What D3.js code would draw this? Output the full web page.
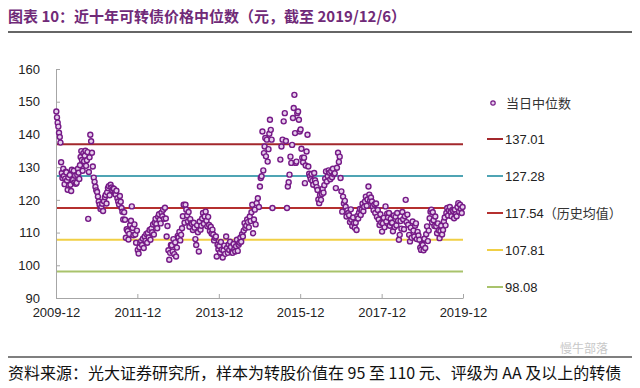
<!DOCTYPE html>
<html>
<head>
<meta charset="utf-8">
<script src="https://cdn.jsdelivr.net/npm/d3@7"></script>
<style>
  body { margin: 0; background: #fff; }
  text { font-family: "Liberation Sans", Arial, "Noto Sans CJK SC", sans-serif; }
  .cjk { font-family: "Noto Sans CJK SC", sans-serif; }
</style>
</head>
<body>
<svg id="chart"></svg>
<script>
// months of the sample, Dec 2009 .. Nov 2019
const months = [
  '2009-12',
  '2010-01', '2010-02', '2010-03', '2010-04', '2010-05', '2010-06', '2010-07', '2010-08', '2010-09', '2010-10', '2010-11', '2010-12',
  '2011-01', '2011-02', '2011-03', '2011-04', '2011-05', '2011-06', '2011-07', '2011-08', '2011-09', '2011-10', '2011-11', '2011-12',
  '2012-01', '2012-02', '2012-03', '2012-04', '2012-05', '2012-06', '2012-07', '2012-08', '2012-09', '2012-10', '2012-11', '2012-12',
  '2013-01', '2013-02', '2013-03', '2013-04', '2013-05', '2013-06', '2013-07', '2013-08', '2013-09', '2013-10', '2013-11', '2013-12',
  '2014-01', '2014-02', '2014-03', '2014-04', '2014-05', '2014-06', '2014-07', '2014-08', '2014-09', '2014-10', '2014-11', '2014-12',
  '2015-01', '2015-02', '2015-03', '2015-04', '2015-05', '2015-06', '2015-07', '2015-08', '2015-09', '2015-10', '2015-11', '2015-12',
  '2016-01', '2016-02', '2016-03', '2016-04', '2016-05', '2016-06', '2016-07', '2016-08', '2016-09', '2016-10', '2016-11', '2016-12',
  '2017-01', '2017-02', '2017-03', '2017-04', '2017-05', '2017-06', '2017-07', '2017-08', '2017-09', '2017-10', '2017-11', '2017-12',
  '2018-01', '2018-02', '2018-03', '2018-04', '2018-05', '2018-06', '2018-07', '2018-08', '2018-09', '2018-10', '2018-11', '2018-12',
  '2019-01', '2019-02', '2019-03', '2019-04', '2019-05', '2019-06', '2019-07', '2019-08', '2019-09', '2019-10', '2019-11'
];

// daily median prices, grouped by month
const medians = [
  [147, 145.2, 143.6, 142.4, 140.5],
  // 2010
  [139.2, 137.5, 131.5, 128.2, 126.7], [129.5, 127.3, 124.8, 126.5, 128.6], [128.4, 125.9, 123.1, 126.8, 124.4],
  [127.6, 124.6, 122.7, 129.2, 126.2], [126.1, 128.9, 125.3, 127.4, 124.9], [125.2, 127.6, 129.5, 128.3, 126.4],
  [130.6, 133.1, 134.9, 132.2, 128.9], [134.3, 131.8, 133.5, 135.0, 130.4], [132.1, 134.6, 114.2, 128.5, 133.0],
  [139.9, 137.9, 134.4, 130.2], [126.8, 125.5, 124.0, 122.9], [122.4, 121.0, 119.5, 118.5],
  // 2011
  [117.2, 117.9, 118.8, 116.6], [119.6, 120.8, 121.5, 118.9], [122.3, 123.6, 124.2, 121.4],
  [124.6, 123.8, 122.9, 123.5], [123.4, 122.1, 121.6, 122.8], [120.5, 119.5, 118.6, 121.2],
  [119.4, 117.5, 116.4, 114.0], [116.2, 113.9, 108.4, 111.0], [110.5, 107.9, 109.6, 112.3],
  [113.6, 118.0, 111.4, 109.2], [112.5, 109.4, 106.9, 110.6], [104.7, 103.6, 105.5, 106.8],
  // 2012
  [107.4, 106.2, 108.1, 105.3], [108.8, 107.5, 109.6, 106.9], [109.9, 108.5, 110.8, 107.8],
  [111.2, 110.1, 112.5, 109.4], [113.0, 114.2, 112.6, 111.3], [114.8, 115.6, 113.9, 112.8],
  [116.1, 115.0, 117.0, 114.2], [117.6, 114.3, 108.8, 112.0], [104.6, 101.7, 103.8, 106.2],
  [106.1, 104.2, 108.0, 103.4], [107.0, 102.7, 105.4, 109.0], [108.5, 110.2, 107.6, 109.3],
  // 2013
  [111.3, 115.0, 118.5, 113.0], [118.5, 117.0, 115.2, 113.4], [116.3, 111.8, 114.1, 112.9],
  [112.6, 110.8, 113.0, 111.5], [108.0, 106.2, 112.2, 110.1], [104.2, 113.4, 110.9, 112.1],
  [114.3, 116.0, 112.7, 114.9], [116.4, 113.6, 111.9, 114.8], [112.3, 110.5, 111.8, 109.7],
  [110.9, 109.4, 107.6, 108.4], [108.8, 102.7, 106.3, 104.9], [105.9, 103.9, 107.1, 104.8],
  // 2014
  [102.4, 104.6, 106.0, 103.5], [108.8, 105.3, 103.8, 106.4], [104.7, 107.2, 105.6, 103.9],
  [103.8, 106.5, 105.0, 104.2], [105.8, 107.8, 104.4, 106.3], [106.9, 108.4, 107.2, 109.5],
  [108.8, 110.6, 112.9, 111.4], [112.1, 114.0, 113.2, 111.6], [114.9, 113.5, 116.2, 118.5],
  [109.8, 114.0, 117.0, 112.5], [119.0, 120.5, 117.8], [124.1, 126.7, 127.2, 140.9],
  // 2015
  [129.0, 134.3, 136.3, 138.9, 133.3], [138.4, 131.7, 135.5, 140.2], [144.5, 141.4, 138.4, 117.5],
  [], [], [132.3, 136.3, 138.4],
  [144.0, 146.5, 138.0], [117.5, 124.1, 125.4, 127.7], [133.2, 131.3, 136.8, 145.0],
  [148.1, 152.1, 140.4, 131.3, 131.7], [146.5, 147.0, 144.5, 140.9], [141.5, 135.6, 132.9, 131.5],
  // 2016
  [132.9, 125.1, 130.5, 134.8], [139.9, 130.2, 128.0, 127.2], [126.3, 127.9, 125.8, 124.6],
  [128.2, 126.0, 125.2, 123.9], [123.0, 120.1, 119.0, 121.5], [120.0, 121.8, 123.4, 122.2],
  [124.5, 126.5, 128.7, 125.6], [127.2, 129.0, 128.3, 126.3], [128.7, 126.9, 129.5, 127.8],
  [128.1, 123.6, 129.8], [134.4, 131.6, 133.2, 126.7], [122.6, 116.4, 121.0, 118.9],
  // 2017
  [119.7, 117.9, 114.9, 116.8], [116.0, 115.3, 113.2, 117.1], [113.9, 112.0, 114.6, 112.9],
  [111.5, 113.0, 110.8, 115.1], [114.3, 116.1, 117.2, 115.4], [117.0, 118.8, 116.5, 117.9],
  [119.5, 121.0, 118.2, 120.1], [124.1, 121.6, 119.8, 120.7], [119.5, 118.0, 116.8, 118.6],
  [116.0, 118.9, 114.8, 116.9], [114.0, 112.3, 115.6, 113.1], [110.3, 112.8, 114.5, 111.6],
  // 2018
  [118.0, 113.4, 115.8, 114.6], [116.0, 112.1, 114.2, 113.0], [113.0, 110.4, 115.2, 111.7],
  [114.8, 112.2, 116.0, 113.6], [107.8, 109.3, 113.5, 111.2], [116.3, 114.1, 111.0, 115.0],
  [120.0, 113.2, 115.5, 112.4], [109.3, 107.3, 111.5, 108.4], [113.4, 110.6, 108.8, 112.1],
  [112.8, 108.0, 110.2, 109.1], [107.8, 105.4, 104.7, 106.5], [106.2, 104.6, 108.1, 105.3],
  // 2019
  [109.5, 111.9, 107.4, 110.6], [114.4, 116.4, 117.0, 113.1], [116.2, 113.8, 112.0, 114.9],
  [111.9, 109.8, 112.8, 110.7], [108.3, 110.5, 112.1, 109.4], [110.8, 113.4, 114.6, 112.2],
  [116.0, 117.5, 115.2, 116.8], [117.8, 116.3, 115.0, 116.9], [116.6, 114.4, 117.0, 115.6],
  [115.0, 117.8, 119.0, 116.4], [118.5, 117.2, 116.0, 117.8]
];

// reference levels (mean and +/- 1, 2 std)
const refValues = [137.01, 127.28, 117.54, 107.81, 98.08];
const refLabels = ['137.01', '127.28', '117.54', '107.81', '98.08'];
const refNotes = ['', '', '（历史均值）', '', ''];

const yTicks = [90, 100, 110, 120, 130, 140, 150, 160];
const xTickLabels = ['2009-12', '2011-12', '2013-12', '2015-12', '2017-12', '2019-12'];

const seriesName = '当日中位数';
const title = '图表 10：近十年可转债价格中位数（元，截至 2019/12/6）';
const source = '资料来源：光大证券研究所，样本为转股价值在 95 至 110 元、评级为 AA 及以上的转债';

const refColors = ['#a3282c', '#4fa4b4', '#b5302f', '#f0cf45', '#a9c36c'];

const width = 640, height = 388;
const parseMonth = d3.timeParse('%Y-%m');

let svg = d3.select('#chart').attr('width', width).attr('height', height);

let x = d3
  .scaleTime()
  .domain([parseMonth('2009-12'), parseMonth('2019-12')])
  .range([56, 463]);

let y = d3
  .scaleLinear()
  .domain([90, 160])
  .range([298, 69]);

// title
svg
  .append('text')
  .attr('x', 8)
  .attr('y', 22)
  .attr('class', 'cjk')
  .attr('fill', '#702a78')
  .attr('font-size', 15)
  .attr('font-weight', 'bold')
  .text(title);

svg
  .append('line')
  .attr('x1', 8)
  .attr('x2', 632)
  .attr('y1', 32)
  .attr('y2', 32)
  .attr('stroke', '#666')
  .attr('stroke-width', 2);

// axes
let yAxis = svg
  .append('g')
  .attr('transform', 'translate(' + x.range()[0] + ',0)')
  .call(
    d3.axisLeft(y)
      .tickValues(yTicks)
      .tickSize(-4)
      .tickSizeOuter(0)
      .tickPadding(16)
  );

let xAxis = svg
  .append('g')
  .attr('transform', 'translate(0,' + y.range()[0] + ')')
  .call(
    d3.axisBottom(x)
      .tickValues(xTickLabels.map(parseMonth))
      .tickFormat(d3.timeFormat('%Y-%m'))
      .tickSize(-4)
      .tickSizeOuter(0)
      .tickPadding(10)
  );

[yAxis, xAxis].forEach(a => {
  a.selectAll('path, line').attr('stroke', '#a6a6a6');
  a.selectAll('text')
    .attr('fill', '#222')
    .attr('font-size', 13)
    .attr('font-family', '"Liberation Sans", Arial, sans-serif');
});

// reference lines
svg
  .append('g')
  .selectAll('line')
  .data(refValues)
  .enter()
  .append('line')
  .attr('x1', x.range()[0] + 1)
  .attr('x2', x.range()[1])
  .attr('y1', d => y(d))
  .attr('y2', d => y(d))
  .attr('stroke', (d, i) => refColors[i])
  .attr('stroke-width', 2);

// scatter of daily medians
let points = [];
months.forEach((m, i) => {
  let start = parseMonth(m);
  medians[i].forEach((v, j, arr) => {
    let day = (j + 0.5) / arr.length * 30;
    points.push({ date: d3.timeHour.offset(start, Math.round(day * 24)), value: v });
  });
});

svg
  .append('g')
  .selectAll('circle')
  .data(points)
  .enter()
  .append('circle')
  .attr('cx', d => x(d.date))
  .attr('cy', d => y(d.value))
  .attr('r', 2.5)
  .attr('fill', '#e6cfec')
  .attr('stroke', '#761a87')
  .attr('stroke-width', 1.4);

// legend
let legend = svg.append('g');

legend
  .append('circle')
  .attr('cx', 493)
  .attr('cy', 103)
  .attr('r', 2.2)
  .attr('fill', '#e6cfec')
  .attr('stroke', '#761a87')
  .attr('stroke-width', 1.2);

legend
  .append('text')
  .attr('x', 506)
  .attr('y', 108)
  .attr('class', 'cjk')
  .attr('font-size', 13)
  .attr('fill', '#333')
  .text(seriesName);

let items = legend
  .selectAll('.item')
  .data(refValues)
  .enter()
  .append('g')
  .classed('item', true)
  .attr('transform', (d, i) => 'translate(487,' + (139 + i * 37) + ')');

items
  .append('line')
  .attr('x1', 0)
  .attr('x2', 16)
  .attr('stroke', (d, i) => refColors[i])
  .attr('stroke-width', 2);

let labels = items
  .append('text')
  .attr('x', 18)
  .attr('y', 5)
  .attr('font-size', 13)
  .attr('fill', '#222');

labels.append('tspan').text((d, i) => refLabels[i]);
labels
  .append('tspan')
  .attr('class', 'cjk')
  .attr('fill', '#333')
  .text((d, i) => refNotes[i]);

// source footer
svg
  .append('line')
  .attr('x1', 8)
  .attr('x2', 632)
  .attr('y1', 357)
  .attr('y2', 357)
  .attr('stroke', '#555')
  .attr('stroke-width', 1.5);

svg
  .append('text')
  .attr('x', 640 - 80)
  .attr('y', 353)
  .attr('class', 'cjk')
  .attr('font-size', 12)
  .attr('fill', '#c8c8c8')
  .text('慢牛部落');

svg
  .append('text')
  .attr('x', 8)
  .attr('y', 379)
  .attr('class', 'cjk')
  .attr('font-size', 16)
  .attr('fill', '#111')
  .text(source);
</script>
</body>
</html>
